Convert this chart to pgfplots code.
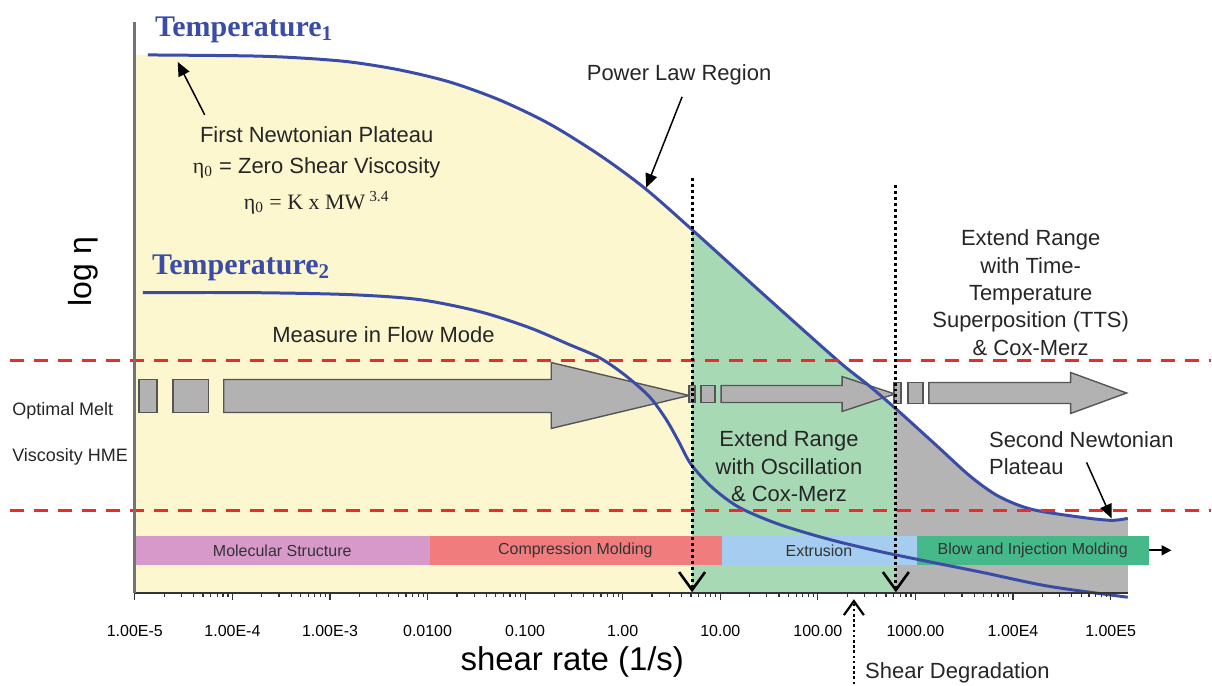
\documentclass[border=0pt]{standalone}
\usepackage{fontspec}
\setmainfont{Liberation Sans}
\newfontfamily\timesfont{Liberation Serif}
\usepackage{pgfplots}
\pgfplotsset{compat=1.18}
\usepgfplotslibrary{fillbetween}
\usetikzlibrary{arrows.meta}

\definecolor{tblue}{HTML}{3B4CA6}
\definecolor{yellowfill}{HTML}{FCF7CE}
\definecolor{greenfill}{HTML}{A8D9B5}
\definecolor{grayfill}{HTML}{B4B4B4}
\definecolor{molec}{HTML}{D699C9}
\definecolor{compr}{HTML}{F07C7E}
\definecolor{extru}{HTML}{A5CDEF}
\definecolor{blowm}{HTML}{45B98A}
\definecolor{arrgray}{HTML}{B2B2B2}
\definecolor{arredge}{HTML}{555555}
\definecolor{dashred}{HTML}{EE2B2B}

\begin{document}
\begin{tikzpicture}
\begin{axis}[
    xmode=log,
    scale only axis,
    width=497.1pt, height=286pt,
    xmin=1e-5, xmax=1.5e5,
    ymin=0, ymax=572,
    axis x line*=bottom, axis y line*=left,
    ytick=\empty,
    xtick={1e-5,1e-4,1e-3,1e-2,1e-1,1,10,100,1000,1e4,1e5},
    xticklabels={1.00E-5,1.00E-4,1.00E-3,0.0100,0.100,1.00,10.00,100.00,1000.00,1.00E4,1.00E5},
    minor xtick={2e-5,3e-5,4e-5,5e-5,6e-5,7e-5,8e-5,9e-5,
                 2e-4,3e-4,4e-4,5e-4,6e-4,7e-4,8e-4,9e-4,
                 2e-3,3e-3,4e-3,5e-3,6e-3,7e-3,8e-3,9e-3,
                 0.02,0.03,0.04,0.05,0.06,0.07,0.08,0.09,
                 0.2,0.3,0.4,0.5,0.6,0.7,0.8,0.9,
                 2,3,4,5,6,7,8,9,
                 20,30,40,50,60,70,80,90,
                 200,300,400,500,600,700,800,900,
                 2000,3000,4000,5000,6000,7000,8000,9000,
                 20000,30000,40000,50000,60000,70000,80000,90000},
    tick align=outside,
    major tick length=3.5pt, minor tick length=2pt,
    tick style={gray!40!black, line width=0.6pt},
    x axis line style={gray!40!black, line width=0.9pt},
    y axis line style={black!55, line width=1.5pt},
    xticklabel style={font=\fontsize{8}{9}\selectfont, yshift=-9pt},
    clip=false,
    axis on top,
]

% bounding area of the whole figure
\path (axis cs:4.15e-7,-91) rectangle (axis cs:1.057e6,594);

% boundary paths for the shaded regions
\addplot[draw=none, smooth, name path=T1fill] coordinates {
    (1e-5,539) (1.36e-5,539) (1.50e-4,538) (4.89e-4,536) (1.59e-3,532)
    (5.15e-3,524) (0.0167,512) (0.0544,494) (0.177,470) (0.574,439)
    (1.66,406) (5.14,364) (29.4,297) (164,232) (333,208) (677,182)
    (1640,148) (3660,117) (7140,97) (15540,84) (50470,76) (102400,73) (1.5e5,75)
};
\addplot[draw=none, name path=base] coordinates {(1e-5,0) (1.5e5,0)};

\addplot[fill=yellowfill, draw=none] fill between[of=T1fill and base,
    soft clip={(axis cs:1e-5,-10) rectangle (axis cs:5.14,600)}];
\addplot[fill=greenfill, draw=none] fill between[of=T1fill and base,
    soft clip={(axis cs:5.14,-10) rectangle (axis cs:630,600)}];
\addplot[fill=grayfill, draw=none] fill between[of=T1fill and base,
    soft clip={(axis cs:630,-10) rectangle (axis cs:1.5e5,600)}];

% processing band
\addplot[fill=molec, draw=none] coordinates {(1e-5,28) (0.0105,28) (0.0105,57) (1e-5,57)} -- cycle;
\addplot[fill=compr, draw=none] coordinates {(0.0105,28) (10.4,28) (10.4,57) (0.0105,57)} -- cycle;
\addplot[fill=extru, draw=none] coordinates {(10.4,28) (1033,28) (1033,57) (10.4,57)} -- cycle;
\addplot[fill=blowm, draw=none] coordinates {(1033,28) (2.45e5,28) (2.45e5,57) (1033,57)} -- cycle;
\addplot[black, line width=1pt, -{Triangle[length=5pt,width=5pt]}] coordinates {(2.45e5,43) (4.21e5,43)};

\begin{scope}[font=\fontsize{8}{9}\selectfont, text=black!80]
\node at (axis cs:3.24e-4,43) {Molecular Structure};
\node at (axis cs:0.327,43) {Compression Molding};
\node at (axis cs:102.6,43) {Extrusion};
\node at (axis cs:15920,43) {Blow and Injection Molding};
\end{scope}

% measurement-mode arrows
\addplot[fill=arrgray, draw=arredge, line width=0.7pt] coordinates {(1.10e-5,181) (1.68e-5,181) (1.68e-5,214) (1.10e-5,214)} -- cycle;
\addplot[fill=arrgray, draw=arredge, line width=0.7pt] coordinates {(2.45e-5,181) (5.72e-5,181) (5.72e-5,214) (2.45e-5,214)} -- cycle;
\addplot[fill=arrgray, draw=arredge, line width=0.7pt] coordinates {(8.15e-5,181) (0.185,181) (0.185,165) (4.80,198) (0.185,231) (0.185,214) (8.15e-5,214)} -- cycle;

\addplot[fill=arrgray, draw=arredge, line width=0.7pt] coordinates {(4.80,191) (5.52,191) (5.52,208) (4.80,208)} -- cycle;
\addplot[fill=arrgray, draw=arredge, line width=0.7pt] coordinates {(6.36,191) (8.85,191) (8.85,208) (6.36,208)} -- cycle;
\addplot[fill=arrgray, draw=arredge, line width=0.7pt] coordinates {(10.2,191) (177,191) (177,182) (615,199.5) (177,217) (177,208) (10.2,208)} -- cycle;

\addplot[fill=arrgray, draw=arredge, line width=0.7pt] coordinates {(601,190) (710,190) (710,211) (601,211)} -- cycle;
\addplot[fill=arrgray, draw=arredge, line width=0.7pt] coordinates {(836,190) (1191,190) (1191,211) (836,211)} -- cycle;
\addplot[fill=arrgray, draw=arredge, line width=0.7pt] coordinates {(1371,190) (39000,190) (39000,180) (145900,200.5) (39000,221) (39000,211) (1371,211)} -- cycle;

% viscosity curves
\addplot[tblue, line width=1.5pt, smooth] coordinates {
    (1.36e-5,539) (1.50e-4,538) (4.89e-4,536) (1.59e-3,532)
    (5.15e-3,524) (0.0167,512) (0.0544,494) (0.177,470) (0.574,439)
    (1.66,406) (5.14,364) (29.4,297) (164,232) (333,208) (677,182)
    (1640,148) (3660,117) (7140,97) (15540,84) (50470,76) (102400,73) (1.5e5,75)
};
\addplot[tblue, line width=1.5pt, smooth] coordinates {
    (1.21e-5,301) (1.50e-4,301) (1.59e-3,299) (8.26e-3,294) (0.0340,282)
    (0.110,266) (0.283,249) (0.574,236) (1.035,219) (1.87,197) (2.79,174)
    (3.79,151) (5.02,129) (8.24,106) (15.6,86) (40.0,69) (130,54) (422,42)
    (1472,31) (4786,21) (23170,7) (1.5e5,-4)
};

% baseline of the x axis kept visible above the fills
\addplot[gray!40!black, line width=0.9pt] coordinates {(1e-5,0) (1.5e5,0)};

% optimal melt viscosity window
\addplot[dashred, line width=1.5pt, dash pattern=on 7pt off 5pt] coordinates {(5.26e-7,233) (1.057e6,233)};
\addplot[dashred, line width=1.5pt, dash pattern=on 7pt off 5pt] coordinates {(5.26e-7,83) (1.057e6,83)};

% range limits
\addplot[black, line width=1.5pt, dash pattern=on 1.5pt off 1.5pt,
    -{Straight Barb[length=9pt,width=13pt,line width=1.3pt]}] coordinates {(5.14,416) (5.14,1)};
\addplot[black, line width=1.5pt, dash pattern=on 1.5pt off 1.5pt,
    -{Straight Barb[length=9pt,width=13pt,line width=1.3pt]}] coordinates {(630,409) (630,1)};
\addplot[black, line width=1.3pt, dash pattern=on 1.3pt off 1.3pt,
    -{Straight Barb[length=7pt,width=10pt,line width=1.1pt]}] coordinates {(234,-91) (234,-6)};

% pointer arrows
\addplot[black, line width=0.75pt, -{Triangle[length=7pt,width=6pt]}] coordinates {(5.20e-5,479) (2.75e-5,532)};
\addplot[black, line width=0.75pt, -{Triangle[length=7pt,width=6pt]}] coordinates {(4.06,497) (1.74,406)};
\addplot[black, line width=0.75pt, -{Triangle[length=7pt,width=6pt]}] coordinates {(56750,131) (102400,75)};

% labels
\node[anchor=west, inner sep=0pt, text=tblue, font=\timesfont\bfseries\fontsize{15}{18}\selectfont]
    at (axis cs:1.60e-5,564) {Temperature\textsubscript{1}};
\node[anchor=west, inner sep=0pt, text=tblue, font=\timesfont\bfseries\fontsize{15}{18}\selectfont]
    at (axis cs:1.49e-5,326) {Temperature\textsubscript{2}};

\begin{scope}[font=\fontsize{11}{13.75}\selectfont, text=black!85]
\node at (axis cs:7.30e-4,459) {First Newtonian Plateau};
\node at (axis cs:7.30e-4,426) {{\timesfont η\textsubscript{0}} = Zero Shear Viscosity};
\node at (axis cs:7.30e-4,391) {\timesfont η\textsubscript{0} = K x MW\textsuperscript{\ 3.4}};
\node at (axis cs:3.78,519) {Power Law Region};
\node at (axis cs:3.54e-3,259) {Measure in Flow Mode};
\node[align=center] at (axis cs:15170,301) {Extend Range\\with Time-\\Temperature\\Superposition (TTS)\\\& Cox-Merz};
\node[align=center] at (axis cs:50.6,127) {Extend Range\\with Oscillation\\\& Cox-Merz};
\node[align=left, anchor=west, inner sep=0pt] at (axis cs:5636,140.5) {Second Newtonian\\Plateau};
\node[anchor=west, inner sep=0pt] at (axis cs:303,-80) {Shear Degradation};
\end{scope}

\begin{scope}[font=\fontsize{9}{11}\selectfont, text=black!85]
\node[anchor=west, inner sep=0pt] at (axis cs:5.5e-7,183) {Optimal Melt};
\node[anchor=west, inner sep=0pt] at (axis cs:5.5e-7,137) {Viscosity HME};
\end{scope}

\node[font=\fontsize{16.5}{19}\selectfont] at (axis cs:0.304,-69) {shear rate (1/s)};
\node[font=\fontsize{16}{19}\selectfont, rotate=90] at (axis cs:2.94e-6,322) {log η};

\end{axis}
\end{tikzpicture}
\end{document}
